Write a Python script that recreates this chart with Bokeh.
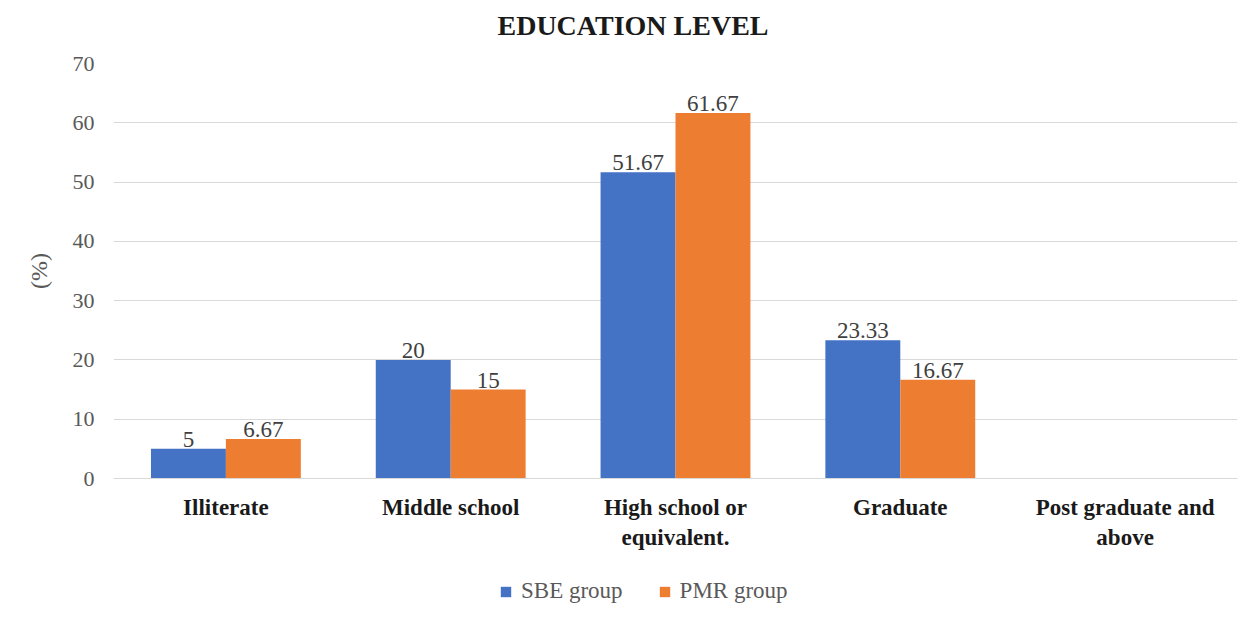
from bokeh.plotting import figure
from bokeh.layouts import column
from bokeh.models import (ColumnDataSource, Legend, LegendItem, Range1d, Title,
                          SingleIntervalTicker, FixedTicker)
from bokeh.core.properties import value
from bokeh.embed import file_html
from bokeh.resources import INLINE

categories = ["Illiterate", "Middle school", "High school or\nequivalent.", "Graduate", "Post graduate and\nabove"]
sbe_values = [5, 20, 51.67, 23.33, 0]
pmr_values = [6.67, 15, 61.67, 16.67, 0]
sbe_text = ["5", "20", "51.67", "23.33", ""]
pmr_text = ["6.67", "15", "61.67", "16.67", ""]
series_names = ["SBE group", "PMR group"]
title_text = "EDUCATION LEVEL"
y_label = "(%)"

SERIF = "Liberation Serif"
BLUE = "#4472C4"
ORANGE = "#ED7D31"

centers = [i + 0.5 for i in range(len(categories))]
src = ColumnDataSource(dict(xc=centers,
                            xs=[c - 1/6 for c in centers], xp=[c + 1/6 for c in centers],
                            sbe=sbe_values, pmr=pmr_values, sbe_t=sbe_text, pmr_t=pmr_text))

p = figure(frame_width=1124, frame_height=415, title=None,
           x_range=Range1d(0, len(categories)), y_range=Range1d(0, 70),
           output_backend="svg", toolbar_location=None,
           min_border_left=113, min_border_right=21, min_border_top=63, min_border_bottom=82)
p.outline_line_color = None
p.background_fill_color = "white"
p.border_fill_color = "white"

p.vbar(x="xs", top="sbe", width=1/3, source=src, fill_color=BLUE, line_color=None)
p.vbar(x="xp", top="pmr", width=1/3, source=src, fill_color=ORANGE, line_color=None)

p.text(x="xs", y="sbe", text="sbe_t", source=src,
       text_align="center", text_baseline="bottom", y_offset=-2,
       text_font=value(SERIF), text_font_size="23px", text_color="#404040")
p.text(x="xp", y="pmr", text="pmr_t", source=src,
       text_align="center", text_baseline="bottom", y_offset=-2,
       text_font=value(SERIF), text_font_size="23px", text_color="#404040")

p.xaxis.ticker = FixedTicker(ticks=centers)
p.xaxis.major_label_overrides = {c: lab for c, lab in zip(centers, categories)}
p.xaxis.major_label_text_font = SERIF
p.xaxis.major_label_text_font_style = "bold"
p.xaxis.major_label_text_font_size = "23px"
p.xaxis.major_label_text_color = "#1a1a1a"
p.xaxis.major_label_standoff = 10
p.xaxis.axis_line_color = "#d9d9d9"
p.xaxis.major_tick_line_color = None
p.xaxis.minor_tick_line_color = None

p.yaxis.ticker = SingleIntervalTicker(interval=10)
p.yaxis.major_label_text_font = SERIF
p.yaxis.major_label_text_font_size = "22px"
p.yaxis.major_label_text_color = "#595959"
p.yaxis.major_label_standoff = 13
p.yaxis.axis_line_color = None
p.yaxis.major_tick_line_color = None
p.yaxis.minor_tick_line_color = None
p.yaxis.axis_label = y_label
p.yaxis.axis_label_text_font = SERIF
p.yaxis.axis_label_text_font_style = "normal"
p.yaxis.axis_label_text_font_size = "24px"
p.yaxis.axis_label_text_color = "#595959"
p.yaxis.axis_label_standoff = 18

p.xgrid.grid_line_color = None
p.ygrid.grid_line_color = "#d9d9d9"
p.ygrid.grid_line_width = 1

# spacer (non-empty so it takes room) between frame and title, then the title
p.add_layout(Title(text=" ", text_font_size="1px", standoff=20), "above")
p.add_layout(Title(text=title_text, text_font=SERIF, text_font_style="bold",
                   text_font_size="28px", text_color="#1a1a1a",
                   align="left", offset=384, standoff=0), "above")

# legend strip below the chart
pl = figure(width=1258, height=66, x_range=Range1d(0, 1), y_range=Range1d(0, 1),
            output_backend="svg", toolbar_location=None, min_border=0)
pl.axis.visible = False
pl.grid.visible = False
pl.outline_line_color = None
key_src = ColumnDataSource(dict(x=[-50], top=[0]))  # legend keys only, zero height, off canvas
k1 = pl.vbar(x="x", top="top", width=0.1, source=key_src, fill_color=BLUE, line_color=None)
k2 = pl.vbar(x="x", top="top", width=0.1, source=key_src, fill_color=ORANGE, line_color=None)
legend = Legend(items=[LegendItem(label=series_names[0], renderers=[k1]),
                       LegendItem(label=series_names[1], renderers=[k2])],
                orientation="horizontal", location=(386, 22),
                glyph_width=13, glyph_height=13, label_standoff=9, spacing=35,
                label_text_font=SERIF, label_text_font_size="23px", label_text_color="#595959",
                border_line_color=None, background_fill_alpha=0, padding=0, margin=0)
pl.add_layout(legend, "center")

open("out.html", "w").write(file_html(column(p, pl, spacing=0), INLINE))
